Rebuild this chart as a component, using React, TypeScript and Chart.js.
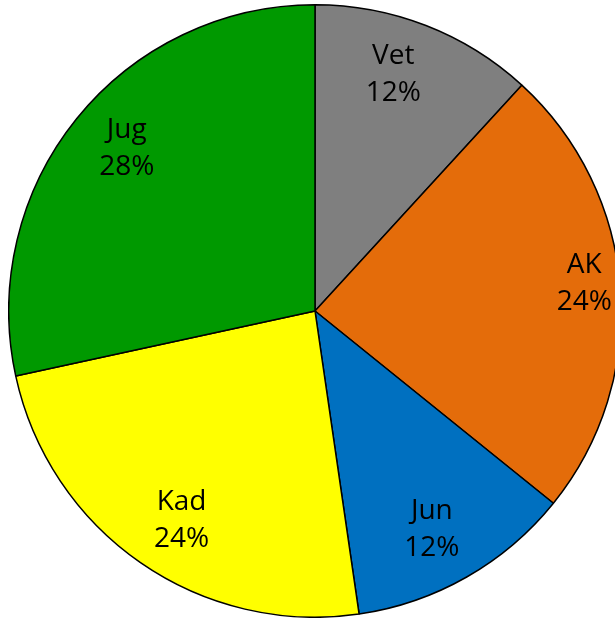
import React, { useEffect, useRef } from "react";
import { Chart, registerables } from "chart.js";

Chart.register(...registerables);

const categories = ["Vet", "AK", "Jun", "Kad", "Jug"];
const values = [11.8, 24.0, 11.9, 23.9, 28.4];
const percentLabels = ["12%", "24%", "12%", "24%", "28%"];
const colors = ["#7F7F7F", "#E46C0A", "#0070C0", "#FFFF00", "#009900"];

// label placement tuning (layout only)
const LABEL_RADIUS = [0.812, 0.884, 0.81, 0.81, 0.813];
const LABEL_ANGLE_SHIFT_DEG = [-2.9, -1.6, 1.6, -2.2, 2.0];
const FONT = "28px 'Open Sans', 'Liberation Sans', sans-serif";
const LINE_GAP = 37;

const labelPlugin = {
  id: "sliceLabels",
  afterDatasetsDraw(chart: any) {
    const ctx = chart.ctx;
    const meta = chart.getDatasetMeta(0);
    ctx.save();
    ctx.font = FONT;
    ctx.fillStyle = "#000000";
    ctx.textAlign = "center";
    ctx.textBaseline = "middle";
    meta.data.forEach((arc: any, i: number) => {
      const mid =
        (arc.startAngle + arc.endAngle) / 2 +
        (LABEL_ANGLE_SHIFT_DEG[i] * Math.PI) / 180;
      const r = arc.outerRadius * LABEL_RADIUS[i];
      const x = arc.x + Math.cos(mid) * r;
      const y = arc.y + Math.sin(mid) * r;
      ctx.fillText(categories[i], x, y - LINE_GAP / 2);
      ctx.fillText(percentLabels[i], x, y + LINE_GAP / 2);
    });
    ctx.restore();
  },
};

export default function App() {
  const ref = useRef<HTMLCanvasElement | null>(null);
  useEffect(() => {
    if (!ref.current) return;
    const chart = new Chart(ref.current, {
      type: "pie",
      data: {
        labels: categories,
        datasets: [
          {
            data: values,
            backgroundColor: colors,
            borderColor: "#000000",
            borderWidth: 1.5,
          },
        ],
      },
      options: {
        responsive: false,
        animation: false,
        layout: { padding: 0 },
        plugins: {
          legend: { display: false },
          tooltip: { enabled: false },
        },
      },
      plugins: [labelPlugin],
    });
    return () => chart.destroy();
  }, []);
  return (
    <div
      style={{
        position: "fixed",
        left: 0,
        top: 0,
        width: 615,
        height: 618,
        overflow: "hidden",
        background: "#ffffff",
      }}
    >
      <canvas
        ref={ref}
        width={614}
        height={614}
        style={{ position: "absolute", left: 8, top: 4, width: 614, height: 614 }}
      />
    </div>
  );
}
